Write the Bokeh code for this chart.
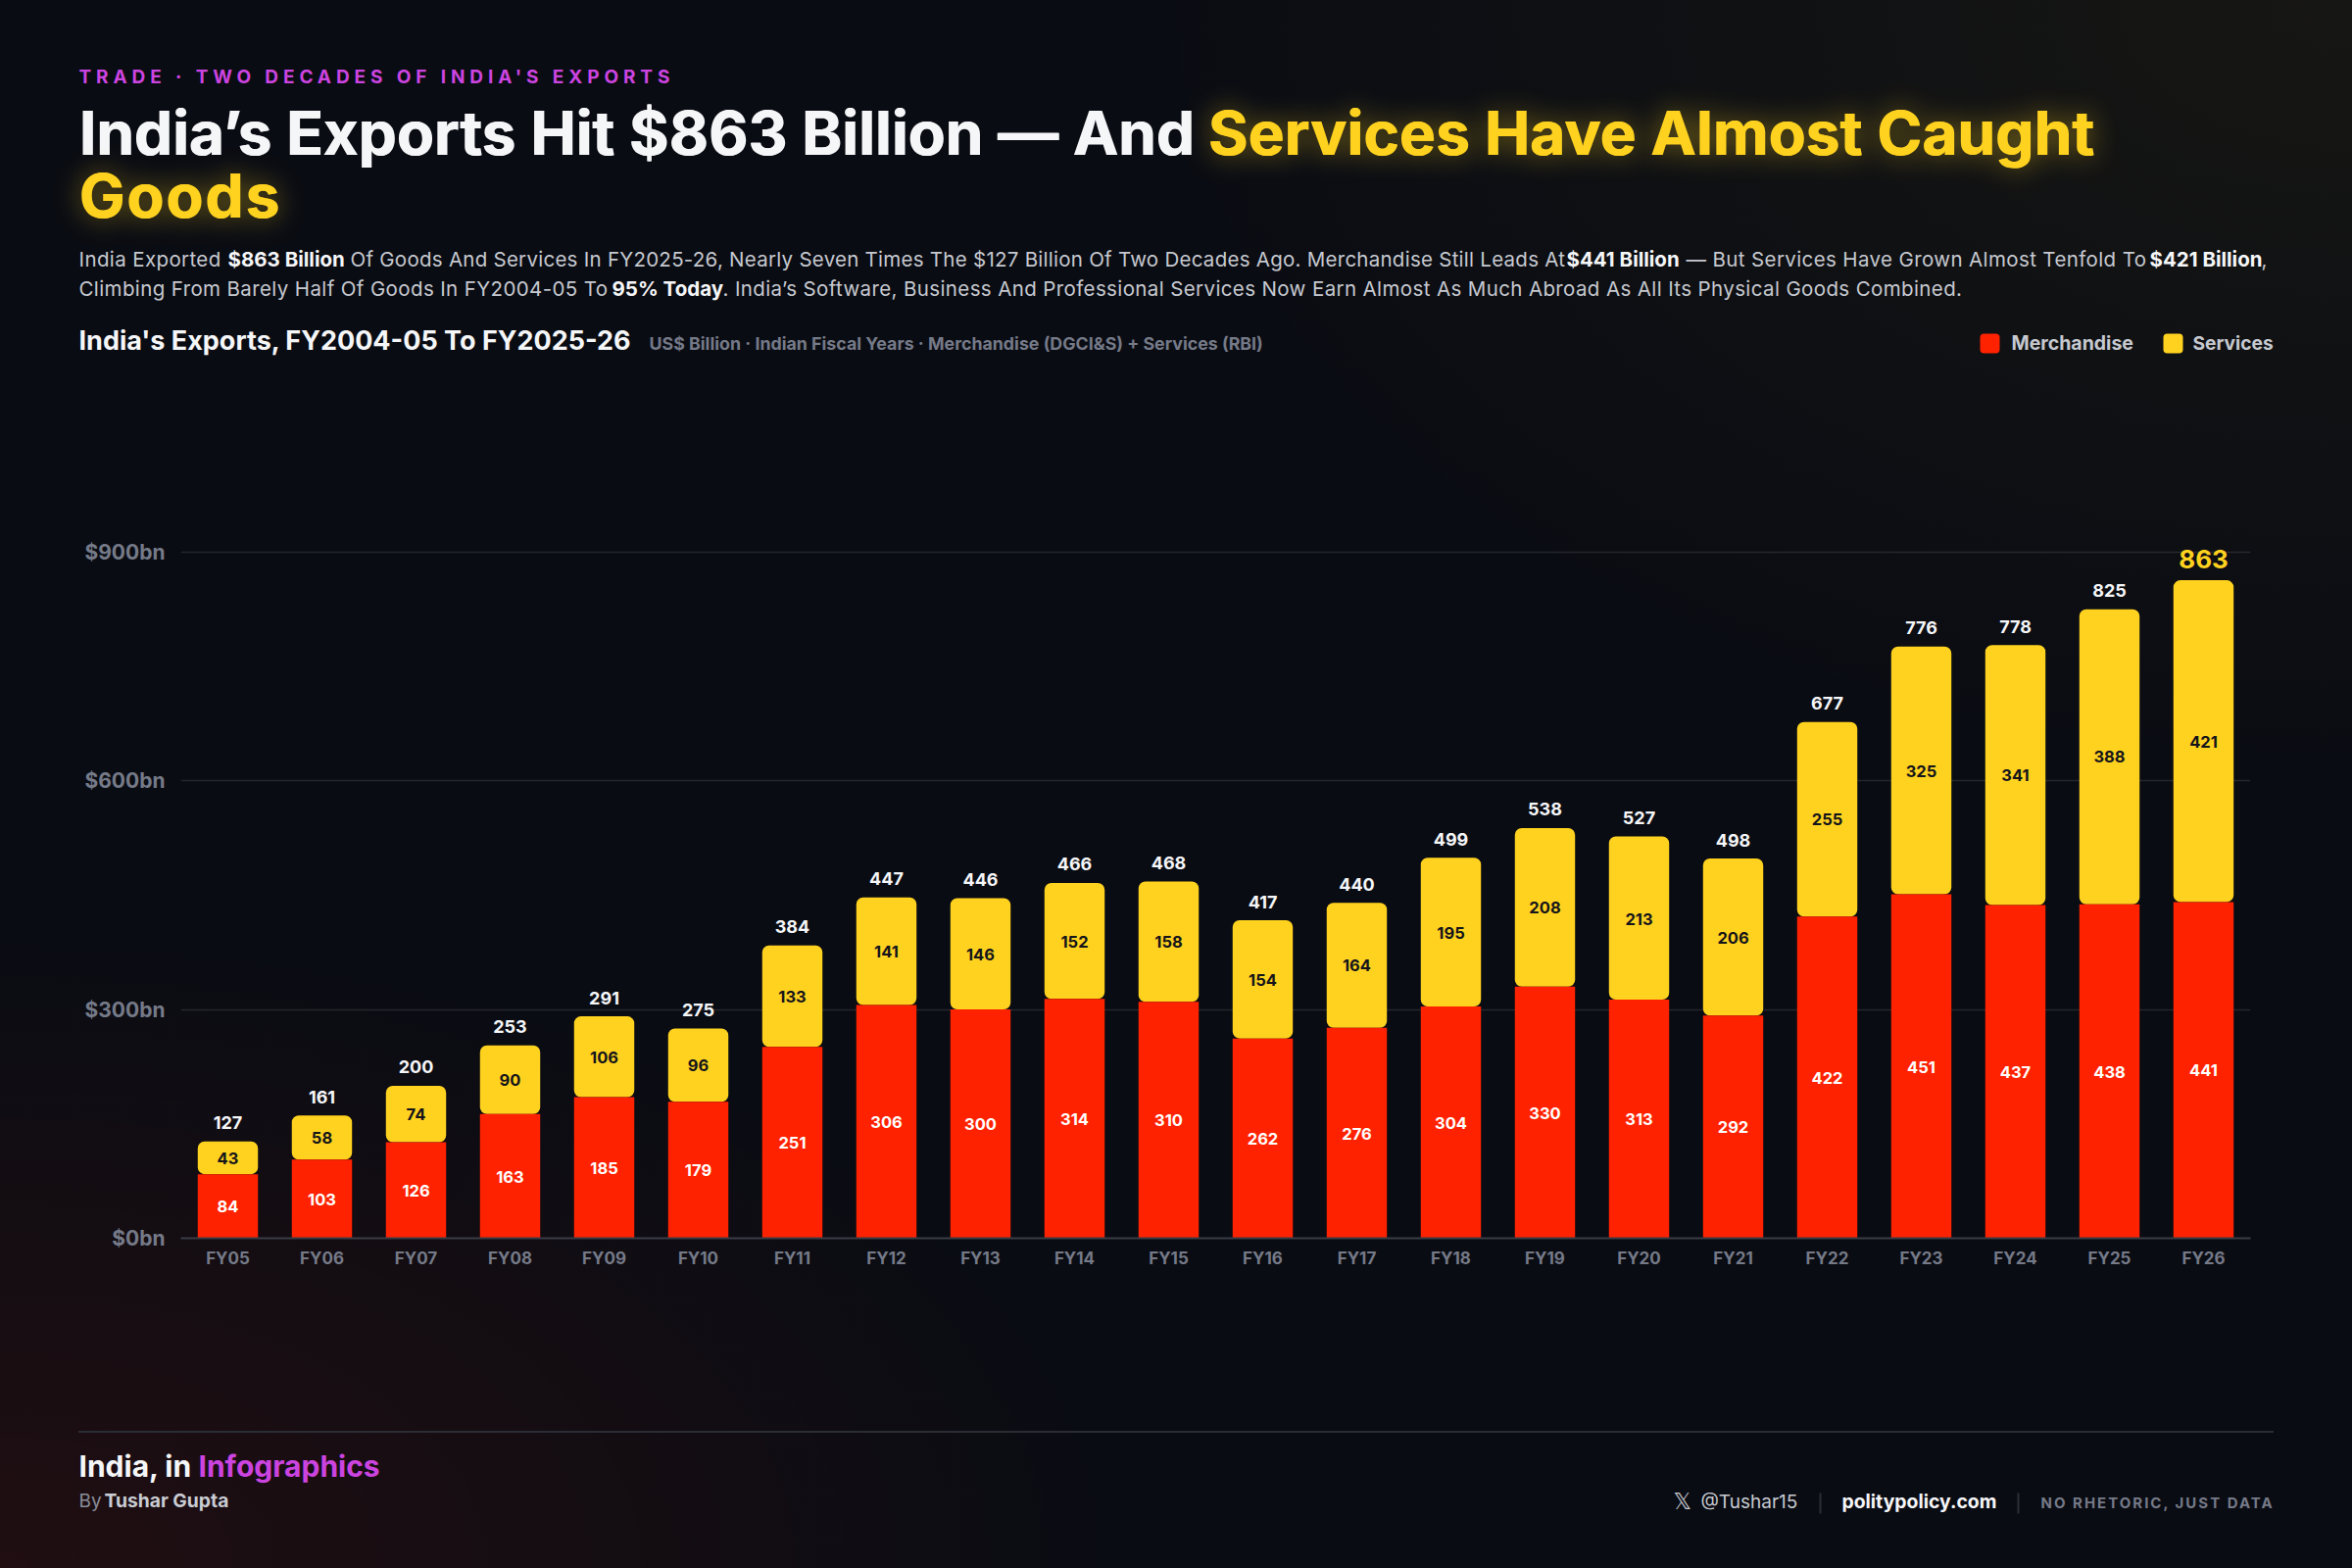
from bokeh.core.properties import value
from bokeh.embed import file_html
from bokeh.layouts import column
from bokeh.models import (ColumnDataSource, FactorRange, FixedTicker, GlobalInlineStyleSheet,
                          Label, Range1d)
from bokeh.plotting import figure
from bokeh.resources import INLINE

# ---------- data ----------
fiscal_years = ["FY05", "FY06", "FY07", "FY08", "FY09", "FY10", "FY11", "FY12", "FY13", "FY14", "FY15",
                "FY16", "FY17", "FY18", "FY19", "FY20", "FY21", "FY22", "FY23", "FY24", "FY25", "FY26"]
merchandise = [84, 103, 126, 163, 185, 179, 251, 306, 300, 314, 310, 262, 276, 304, 330, 313, 292, 422, 451, 437, 438, 441]
services = [43, 58, 74, 90, 106, 96, 133, 141, 146, 152, 158, 154, 164, 195, 208, 213, 206, 255, 325, 341, 388, 421]
totals = [127, 161, 200, 253, 291, 275, 384, 447, 446, 466, 468, 417, 440, 499, 538, 527, 498, 677, 776, 778, 825, 863]
y_ticks = [0, 300, 600, 900]
y_tick_labels = ["$0bn", "$300bn", "$600bn", "$900bn"]

# ---------- style ----------
W, H = 2400, 1600
RED, GOLD, PURPLE = "#ff2200", "#ffd21f", "#cc44e0"
WHITE, BODY, GREY = "#f5f6f8", "#c6c9d0", "#757a88"
FONT = "Inter"
BASE_K = 0.38  # Label alphabetic-baseline correction

page_css = GlobalInlineStyleSheet(css="""
html{min-height:100%;background:
linear-gradient(#2b2d35,#2b2d35) 80px 1460px/2240px 2px no-repeat fixed,
radial-gradient(ellipse 1250px 800px at 100% 0%, rgba(255,210,31,.05), transparent 100%) no-repeat fixed,
radial-gradient(ellipse 1150px 650px at 0% 100%, rgba(255,34,0,.09), transparent 100%) no-repeat fixed,
#0a0c13;}
body{background:transparent;}
""")

src = ColumnDataSource(dict(
    fy=fiscal_years,
    merch=merchandise,
    merch_mid=[m / 2 for m in merchandise],
    serv_mid=[m + s / 2 for m, s in zip(merchandise, services)],
    bar_top=totals,
    merch_txt=[str(v) for v in merchandise],
    serv_txt=[str(v) for v in services],
))

# ---------- chart ----------
p = figure(width=W, height=H, x_range=FactorRange(factors=fiscal_years), y_range=Range1d(0, 1000),
           toolbar_location=None, output_backend="svg",
           min_border_left=184, min_border_right=104, min_border_top=485, min_border_bottom=337,
           border_fill_color=None, background_fill_color=None, outline_line_color=None)
p.stylesheets = [page_css]

p.yaxis.ticker = FixedTicker(ticks=y_ticks)
p.yaxis.major_label_overrides = dict(zip(y_ticks, y_tick_labels))
p.yaxis.axis_line_color = None
p.yaxis.major_tick_line_color = None
p.yaxis.minor_tick_line_color = None
p.yaxis.major_label_text_color = GREY
p.yaxis.major_label_text_font = FONT
p.yaxis.major_label_text_font_size = "21px"
p.yaxis.major_label_text_font_style = "bold"
p.yaxis.major_label_standoff = 10

p.xaxis.axis_line_color = "#3a3c46"
p.xaxis.axis_line_width = 2
p.xaxis.major_tick_line_color = None
p.xaxis.minor_tick_line_color = None
p.xaxis.major_label_text_color = GREY
p.xaxis.major_label_text_font = FONT
p.xaxis.major_label_text_font_size = "17px"
p.xaxis.major_label_text_font_style = "bold"
p.xaxis.major_label_standoff = 4

p.xgrid.visible = False
p.ygrid.ticker = FixedTicker(ticks=y_ticks)
p.ygrid.grid_line_color = "#ffffff"
p.ygrid.grid_line_alpha = 0.11
p.ygrid.grid_line_width = 1.5

p.vbar(x="fy", width=0.64, bottom="merch", top="bar_top", source=src, fill_color=GOLD, line_color=None,
       border_radius=7)
p.vbar(x="fy", width=0.64, bottom=0, top="merch", source=src, fill_color=RED, line_color=None)

p.text(x="fy", y="merch_mid", text="merch_txt", source=src, text_color="#ffffff", text_font=value(FONT),
       text_font_size="16.5px", text_font_style="bold", text_align="center", text_baseline="middle", y_offset=0.5)
p.text(x="fy", y="serv_mid", text="serv_txt", source=src, text_color="#14141a", text_font=value(FONT),
       text_font_size="16.5px", text_font_style="bold", text_align="center", text_baseline="middle", y_offset=0.5)

last = len(totals) - 1
src_tot = ColumnDataSource(dict(fy=fiscal_years[:last], y=totals[:last], t=[str(v) for v in totals[:last]]))
src_top = ColumnDataSource(dict(fy=fiscal_years[last:], y=totals[last:], t=[str(v) for v in totals[last:]]))
p.text(x="fy", y="y", text="t", source=src_tot, text_color=WHITE, text_font=value(FONT), text_font_size="18px",
       text_font_style="bold", text_align="center", text_baseline="alphabetic", y_offset=-19)
p.text(x="fy", y="y", text="t", source=src_top, text_color=GOLD, text_font=value(FONT), text_font_size="26px",
       text_font_style="bold", text_align="center", text_baseline="alphabetic", y_offset=-22)


# ---------- overlay layers (coordinates are page pixels) ----------
def layer(**css):
    f = figure(width=W, height=H, x_range=Range1d(0, W), y_range=Range1d(H, 0),
               toolbar_location=None, output_backend="svg", x_axis_location=None, y_axis_location=None,
               min_border=0, border_fill_color=None, background_fill_color=None, outline_line_color=None)
    f.grid.visible = False
    f.styles = {"position": "absolute", "left": "0px", "top": "0px", "pointer-events": "none", **css}
    return f


def txt(f, x, y, s, size, color, bold=False, font=FONT, align="left"):
    f.add_layout(Label(x=x, y=y - BASE_K * size, text=s, text_font=font, text_font_size=f"{size}px",
                       text_color=color, text_font_style="bold" if bold else "normal",
                       text_baseline="alphabetic", text_align=align))


GLOW = "drop-shadow(1px 0 0 #ffd21f) drop-shadow(0 0 14px rgba(255,210,31,.45))"
plain = layer()
# headline
title = layer(**{"letter-spacing": "0.05px", "filter": "drop-shadow(1px 0 0 #f5f6f8)"})
txt(title, 80, 159, "India’s Exports Hit $863 Billion — And", 62, WHITE, True)
glow = layer(**{"letter-spacing": "0.15px", "filter": GLOW})
txt(glow, 1232, 159, "Services Have Almost Caught", 62, GOLD, True)
glow2 = layer(**{"letter-spacing": "2px", "filter": GLOW})
txt(glow2, 80, 223, "Goods", 62, GOLD, True)

# kicker
kick = layer(**{"letter-spacing": "4.9px"})
txt(kick, 80, 85, "TRADE · TWO DECADES OF INDIA'S EXPORTS", 19, PURPLE, True)

# standfirst
B = 20.5
body = layer(**{"letter-spacing": "0.38px"})
body1 = layer(**{"letter-spacing": "0.26px"})
txt(body, 80, 272, "India Exported", B, BODY)
txt(plain, 232, 272, "$863 Billion", B, WHITE, True)
txt(body1, 357, 272, "Of Goods And Services In FY2025-26, Nearly Seven Times The $127 Billion Of Two Decades Ago. Merchandise Still Leads At", B, BODY)
txt(plain, 1598, 272, "$441 Billion", B, WHITE, True)
txt(body, 1720, 272, "— But Services Have Grown Almost Tenfold To", B, BODY)
txt(plain, 2193, 272, "$421 Billion", B, WHITE, True)
txt(body, 2307, 272, ",", B, BODY)
txt(body, 80, 302, "Climbing From Barely Half Of Goods In FY2004-05 To", B, BODY)
txt(plain, 624, 302, "95% Today", B, WHITE, True)
txt(body, 737, 302, ". India’s Software, Business And Professional Services Now Earn Almost As Much Abroad As All Its Physical Goods Combined.", B, BODY)

# chart heading
txt(plain, 80, 357, "India's Exports, FY2004-05 To FY2025-26", 27, WHITE, True)
txt(plain, 662, 357, "US$ Billion · Indian Fiscal Years · Merchandise (DGCI&S) + Services (RBI)", 17.8, GREY, True)

# legend
plain.quad(left=[2020, 2207], right=[2040, 2227], top=[340, 340], bottom=[360, 360],
           fill_color=[RED, GOLD], line_color=None, border_radius=4)
txt(plain, 2052, 357, "Merchandise", 19.5, BODY, True)
txt(plain, 2237, 357, "Services", 19.2, BODY, True)

# footer
plain.segment(x0=[1857, 2059], x1=[1857, 2059], y0=[1523, 1523], y1=[1544, 1544],
              line_color="#2c2e36", line_width=2)
txt(plain, 80, 1507, "India, in", 30, WHITE, True)
txt(plain, 202, 1507, "Infographics", 30, PURPLE, True)
txt(plain, 80, 1538, "By", 19, "#8a8d98")
txt(plain, 106, 1538, "Tushar Gupta", 19.3, "#c9ccd3", True)
txt(plain, 1707, 1540, "𝕏", 23, BODY, font="DejaVu Sans")
txt(plain, 1735, 1539, "@Tushar15", 19, BODY)
txt(plain, 1879, 1539, "politypolicy.com", 19.4, WHITE, True)
foot = layer(**{"letter-spacing": "2px"})
txt(foot, 2082, 1539, "NO RHETORIC, JUST DATA", 15, GREY, True)

# the chart gets its own column so that the full-page layers keep their own frames
root = column(column(p, width=W, height=H), plain, title, glow, glow2, kick, body, body1, foot,
              width=W, height=H, spacing=0)
root.styles = {"position": "relative"}
open("out.html", "w").write(file_html(root, INLINE))
